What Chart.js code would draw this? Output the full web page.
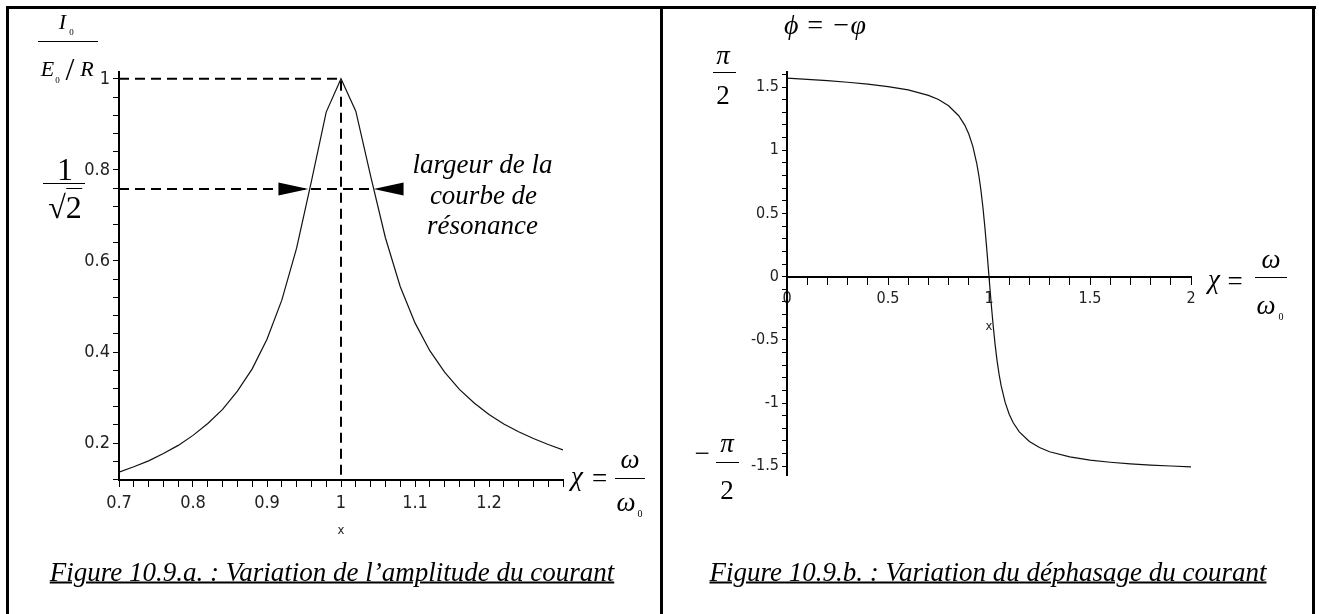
<!DOCTYPE html>
<html>
<head>
<meta charset="utf-8">
<script src="https://cdn.jsdelivr.net/npm/chart.js@4.4.1/dist/chart.umd.min.js"></script>
<style>
  body { margin: 0; background: #fff; }
  #page { position: relative; width: 1319px; height: 614px; overflow: hidden; background: #fff; }
  canvas { position: absolute; top: 0; }
  .m { position: absolute; transform: translate(-50%, -50%); font-family: 'Liberation Serif', 'Times New Roman', serif;
       font-style: italic; line-height: 1; white-space: nowrap; color: #000; }
  .up { font-style: normal; }
  .bar { position: absolute; height: 0; border-top: 1.5px solid #000; }
  .rule { position: absolute; background: #000; }
  .cap { text-decoration: underline; text-decoration-thickness: 1.5px; }
</style>
</head>
<body>
<div id="page">
  <canvas id="ampChart" width="660" height="614" style="left:0"></canvas>
  <canvas id="phaseChart" width="659" height="614" style="left:660px"></canvas>
</div>
<script>
// amplitude curve I0/(E0/R) against chi = omega/omega0
const ampX = [0.70, 0.72, 0.74, 0.76, 0.78, 0.80, 0.82, 0.84, 0.86, 0.88, 0.90, 0.92, 0.94, 0.96, 0.98, 1.00,
              1.02, 1.04, 1.06, 1.08, 1.10, 1.12, 1.14, 1.16, 1.18, 1.20, 1.22, 1.24, 1.26, 1.28, 1.30];
const ampY = [0.136, 0.148, 0.161, 0.177, 0.195, 0.217, 0.243, 0.274, 0.314, 0.363, 0.428, 0.514, 0.628, 0.775, 0.927, 1.000,
              0.929, 0.787, 0.651, 0.544, 0.464, 0.403, 0.356, 0.318, 0.288, 0.263, 0.242, 0.225, 0.210, 0.197, 0.185];
const ampXLabels = ['0.7', '0.8', '0.9', '1', '1.1', '1.2'];
const ampYLabels = ['0.2', '0.4', '0.6', '0.8', '1'];

// resonance marks
const peakX = 1, peakY = 1;
const halfLevel = 0.758;
const halfLeft = 0.956, halfRight = 1.044;

// phase curve phi = -varphi
const phaseX = [0, 0.1, 0.2, 0.3, 0.4, 0.5, 0.6, 0.7, 0.75, 0.8, 0.85, 0.88, 0.9, 0.92, 0.94, 0.95, 0.96, 0.97, 0.98, 0.99, 1.0,
                1.01, 1.02, 1.03, 1.04, 1.05, 1.06, 1.08, 1.1, 1.12, 1.15, 1.2, 1.25, 1.3, 1.4, 1.5, 1.6, 1.7, 1.8, 1.9, 2.0];
const phaseY = [1.571, 1.561, 1.550, 1.538, 1.523, 1.504, 1.477, 1.434, 1.401, 1.352, 1.273, 1.199, 1.128, 1.031, 0.891, 0.798, 0.685, 0.547, 0.384, 0.198, 0,
                -0.196, -0.377, -0.534, -0.666, -0.773, -0.862, -0.995, -1.088, -1.156, -1.228, -1.304, -1.352, -1.385, -1.426, -1.452, -1.468, -1.481, -1.491, -1.498, -1.504];
const phaseXLabels = ['0', '0.5', '1', '1.5', '2'];
const phaseYLabels = ['-1.5', '-1', '-0.5', '0', '0.5', '1', '1.5'];

const tickFont = "'Liberation Sans Narrow', 'DejaVu Sans Condensed', 'Liberation Sans', sans-serif";
Chart.defaults.font.family = tickFont;

function labelsOnly(list) {
  return function (v) {
    const s = String(Math.round(v * 1000) / 1000);
    return list.includes(s) ? s : '';
  };
}

function axis(extra) {
  return Object.assign({
    type: 'linear',
    grid: { drawOnChartArea: false, drawTicks: true, color: '#000', lineWidth: 1 },
    border: { display: true, color: '#000', width: 2 }
  }, extra);
}

const widthArrows = {
  id: 'widthArrows',
  afterDatasetsDraw(chart) {
    const { ctx, scales: { x, y } } = chart;
    const py = y.getPixelForValue(halfLevel);
    [[halfLeft, -1], [halfRight, 1]].forEach(([v, dir]) => {
      const px = x.getPixelForValue(v);
      ctx.save();
      ctx.fillStyle = '#000';
      ctx.beginPath();
      ctx.moveTo(px, py);
      ctx.lineTo(px + dir * 30, py - 6.5);
      ctx.lineTo(px + dir * 30, py + 6.5);
      ctx.closePath();
      ctx.fill();
      ctx.restore();
    });
  }
};

// move the plot box onto the spot it has in the picture
function fitArea(chart, pad, t) {
  for (let i = 0; i < 4; i++) {
    const a = chart.chartArea;
    pad.left += t.left - a.left;
    pad.top += t.top - a.top;
    pad.right += a.right - t.right;
    pad.bottom += a.bottom - t.bottom;
    chart.update('none');
  }
}

const padA = { left: 60, right: 90, top: 70, bottom: 60 };
const ampChart = new Chart(document.getElementById('ampChart'), {
  type: 'line',
  data: {
    datasets: [
      { data: ampX.map((x, i) => ({ x, y: ampY[i] })), borderColor: '#111', borderWidth: 1.2, pointRadius: 0, tension: 0 },
      { data: [{ x: ampX[0], y: peakY }, { x: peakX, y: peakY }, { x: peakX, y: 0.119 }],
        borderColor: '#000', borderWidth: 2, borderDash: [10, 6], pointRadius: 0 },
      { data: [{ x: ampX[0], y: halfLevel }, { x: halfRight, y: halfLevel }],
        borderColor: '#000', borderWidth: 2, borderDash: [10, 6], pointRadius: 0 }
    ]
  },
  options: {
    responsive: false, animation: false, devicePixelRatio: 1,
    layout: { padding: padA },
    plugins: { legend: { display: false }, tooltip: { enabled: false } },
    scales: {
      x: axis({
        position: 'bottom', min: 0.7, max: 1.3,
        grid: { drawOnChartArea: false, color: '#000', tickLength: 7 },
        ticks: { stepSize: 0.02, autoSkip: false, maxRotation: 0, includeBounds: false, padding: 6,
                 callback: labelsOnly(ampXLabels), color: '#222', font: { size: 18 } },
        title: { display: true, text: 'x', color: '#222', font: { size: 13 }, padding: { top: 2, bottom: 0 } }
      }),
      y: axis({
        position: 'left', min: 0.119, max: 1.015,
        grid: { drawOnChartArea: false, color: '#000', tickLength: 6 },
        ticks: { stepSize: 0.04, autoSkip: false, includeBounds: false, padding: 3,
                 callback: labelsOnly(ampYLabels), color: '#222', font: { size: 18 } }
      })
    }
  },
  plugins: [widthArrows]
});
fitArea(ampChart, padA, { left: 119, top: 72, right: 563, bottom: 480 });

const padB = { left: 90, right: 120, top: 70, bottom: 130 };
const phaseChart = new Chart(document.getElementById('phaseChart'), {
  type: 'line',
  data: {
    datasets: [
      { data: phaseX.map((x, i) => ({ x, y: phaseY[i] })), borderColor: '#111', borderWidth: 1.2, pointRadius: 0, tension: 0 }
    ]
  },
  options: {
    responsive: false, animation: false, devicePixelRatio: 1,
    layout: { padding: padB },
    plugins: { legend: { display: false }, tooltip: { enabled: false } },
    scales: {
      x: axis({
        axis: 'x', position: { y: 0 }, min: 0, max: 2,
        grid: { drawOnChartArea: false, color: '#000', tickLength: 7 },
        ticks: { stepSize: 0.1, autoSkip: false, maxRotation: 0, includeBounds: false, padding: 6,
                 callback: labelsOnly(phaseXLabels), color: '#222', font: { size: 16 } },
        title: { display: true, text: 'x', color: '#222', font: { size: 13 }, padding: { top: 4, bottom: 0 } }
      }),
      y: axis({
        position: 'left', min: -1.569, max: 1.619,
        grid: { drawOnChartArea: false, color: '#000', tickLength: 5 },
        ticks: { stepSize: 0.1, autoSkip: false, includeBounds: false, padding: 3,
                 callback: labelsOnly(phaseYLabels), color: '#222', font: { size: 16 } }
      })
    }
  }
});
fitArea(phaseChart, padB, { left: 127, top: 72, right: 531, bottom: 475 });

// text and frame placed over the charts
const page = document.getElementById('page');
function put(html, cx, cy, size, cls) {
  const d = document.createElement('div');
  d.className = 'm' + (cls ? ' ' + cls : '');
  d.style.left = cx + 'px';
  d.style.top = cy + 'px';
  d.style.fontSize = size + 'px';
  d.innerHTML = html;
  page.appendChild(d);
}
function bar(x1, x2, y) {
  const d = document.createElement('div');
  d.className = 'bar';
  d.style.left = x1 + 'px';
  d.style.width = (x2 - x1) + 'px';
  d.style.top = y + 'px';
  page.appendChild(d);
}
function rule(l, t, w, h) {
  const d = document.createElement('div');
  d.className = 'rule';
  Object.assign(d.style, { left: l + 'px', top: t + 'px', width: w + 'px', height: h + 'px' });
  page.appendChild(d);
}

// left panel
put('I', 62.5, 21.5, 22);
put('0', 71.5, 32, 9, 'up');
bar(38, 98, 40.5);
put('E', 47.5, 68.5, 22);
put('0', 57.5, 80, 9, 'up');
put('/', 70, 68.5, 32, 'up');
put('R', 87, 68.5, 22);
put('1', 65, 168.5, 32, 'up');
bar(43, 85, 182.5);
put('√<span style="border-top:1.5px solid #000">2</span>', 65, 207, 32, 'up');
put('largeur de la', 482.5, 164, 27);
put('courbe de', 483.5, 194.5, 27);
put('résonance', 482.5, 225, 27);
put('χ', 577, 476, 27);
put('=', 599.5, 478, 27, 'up');
bar(615, 645, 477.5);
put('ω', 630, 459, 27);
put('ω', 626, 502, 27);
put('0', 640, 514, 10, 'up');
put('Figure 10.9.a. : Variation de l’amplitude du courant', 332, 572, 27, 'cap');

// right panel
put('ϕ = −φ', 825, 24.5, 28);
put('π', 723, 54.5, 27);
bar(713, 736, 71.5);
put('2', 723, 95, 27, 'up');
put('−', 702, 452.6, 27, 'up');
put('π', 727, 443, 27);
bar(716, 739, 461.5);
put('2', 727, 490, 27, 'up');
put('χ', 1214, 278.5, 27);
put('=', 1235, 280.6, 27, 'up');
bar(1255, 1287, 276.5);
put('ω', 1271, 259, 27);
put('ω', 1266, 305, 27);
put('0', 1281, 317, 10, 'up');
put('Figure 10.9.b. : Variation du déphasage du courant', 988, 572, 27, 'cap');

// frame
rule(6, 6, 1310, 3);
rule(6, 6, 3, 620);
rule(660, 6, 3, 620);
rule(1312, 6, 3, 620);
</script>
</body>
</html>
